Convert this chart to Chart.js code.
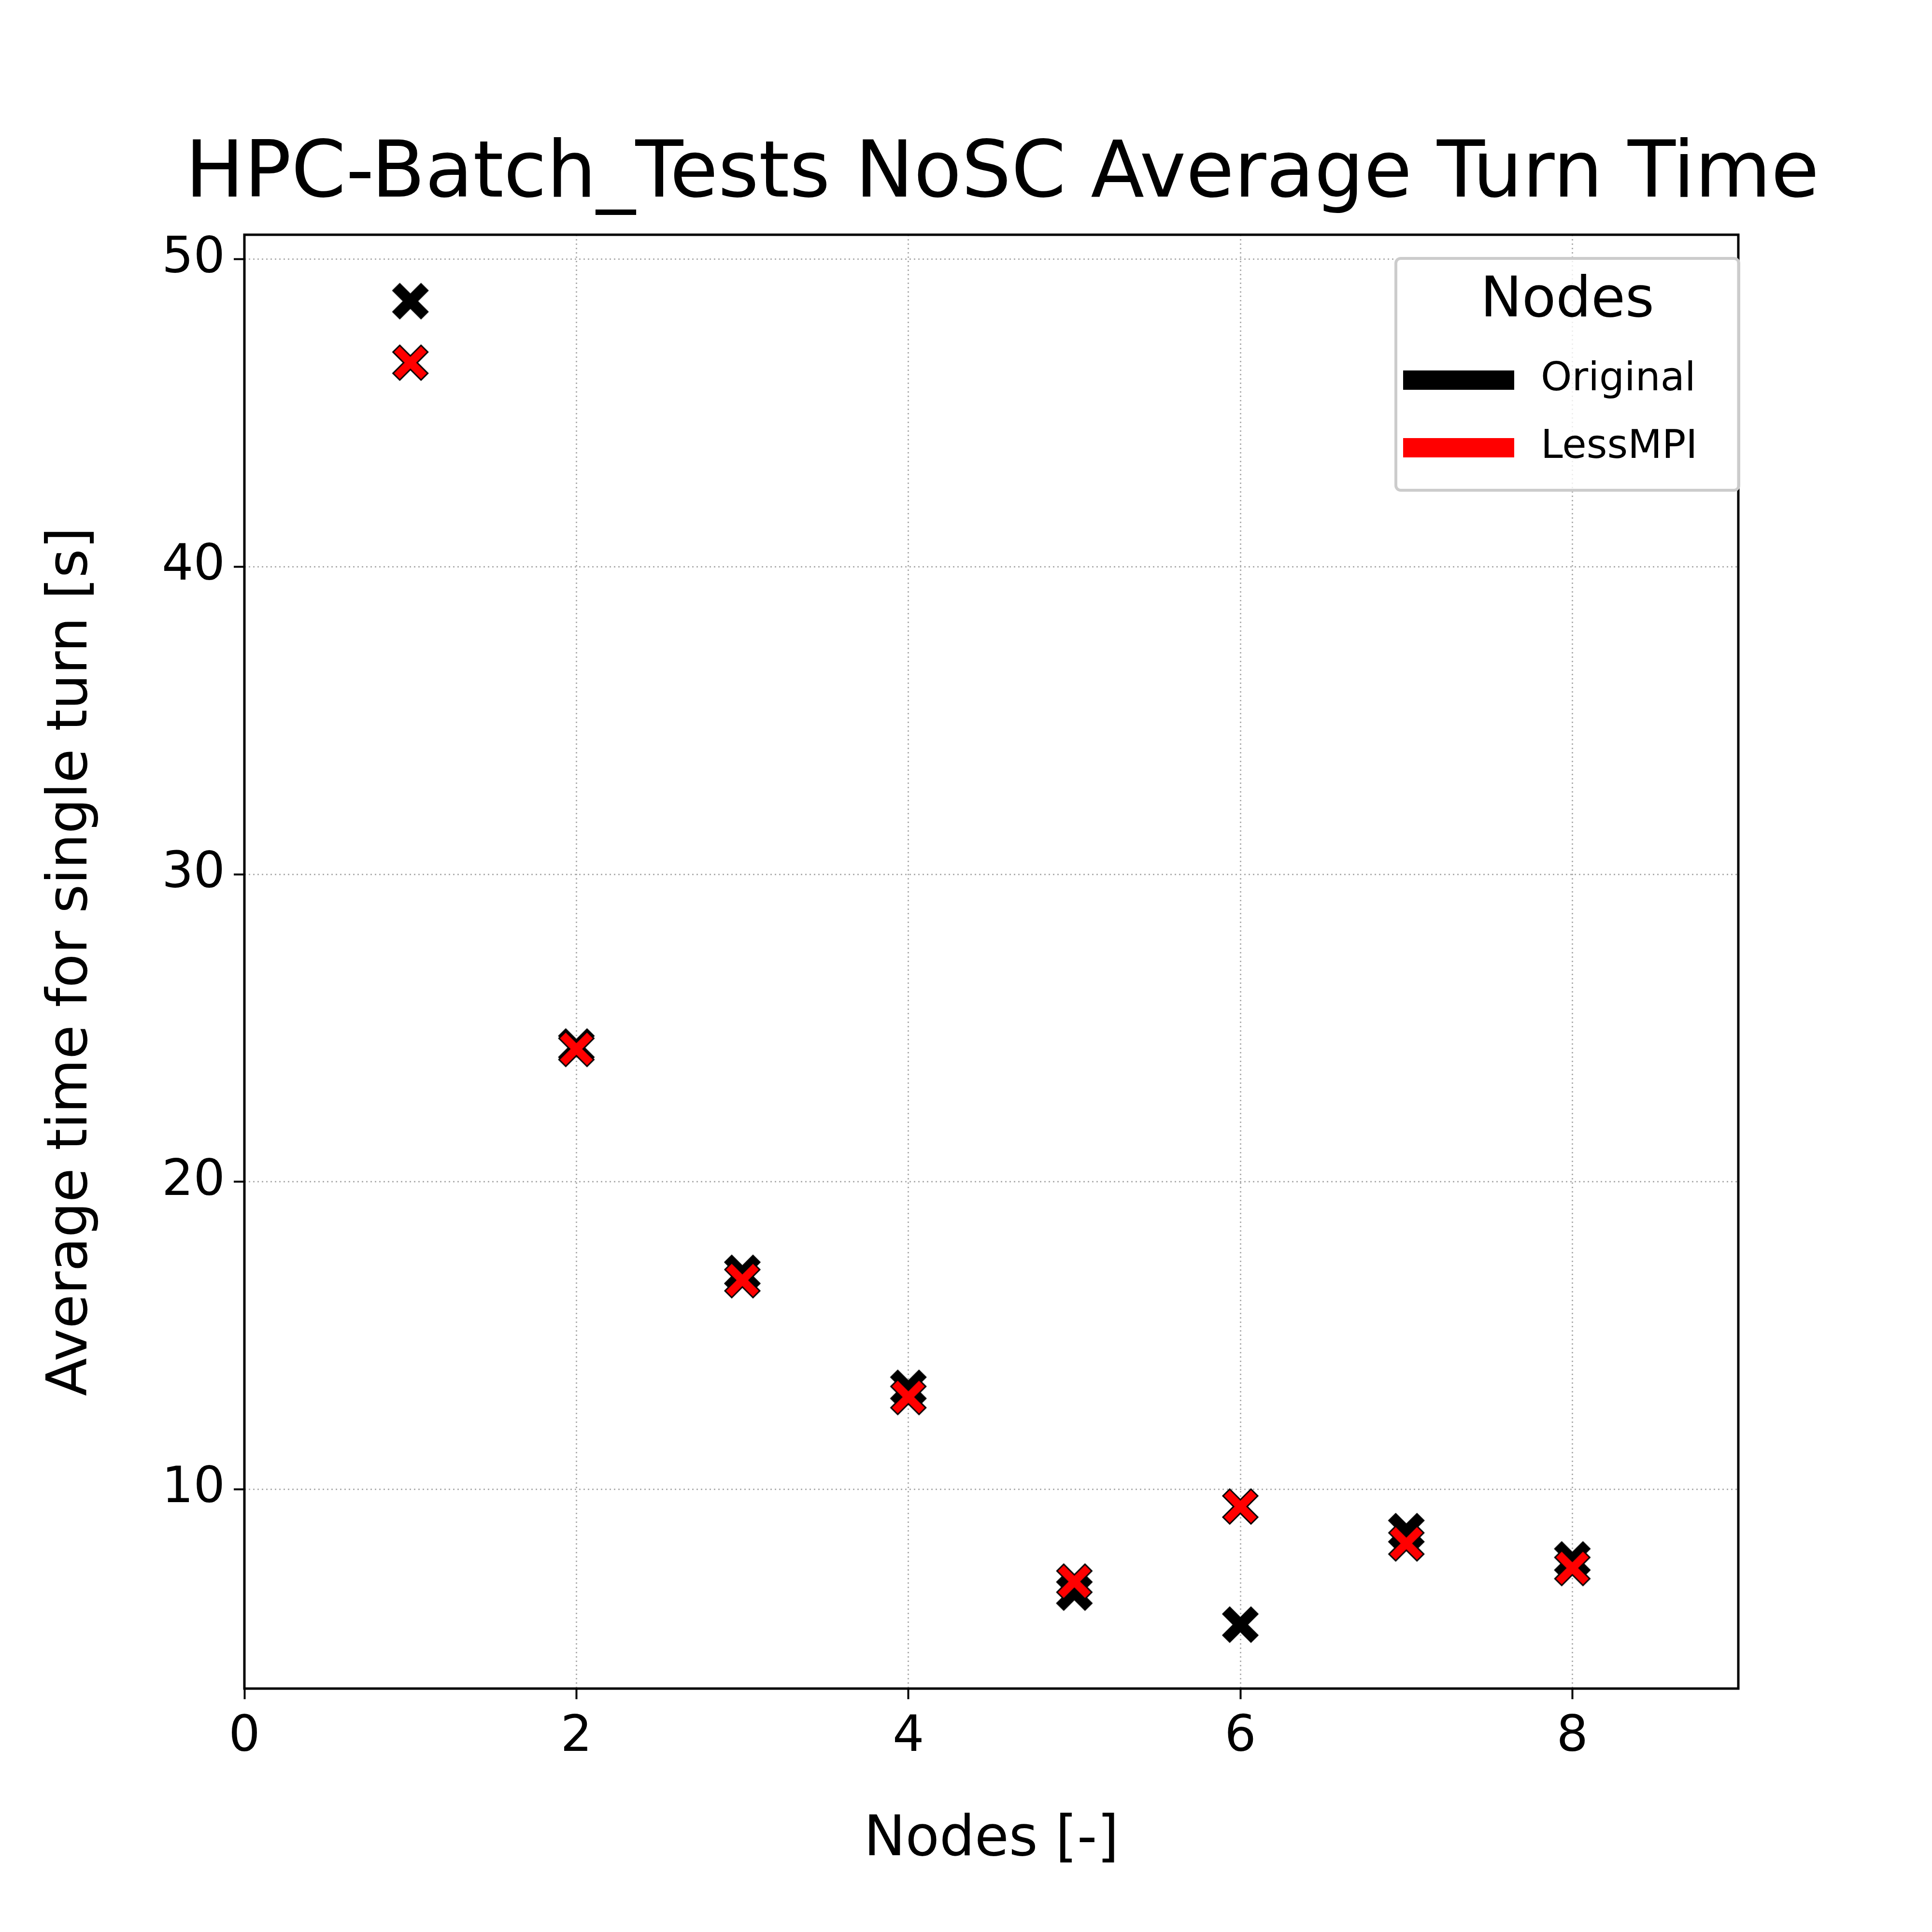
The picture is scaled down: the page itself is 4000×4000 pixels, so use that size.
<!DOCTYPE html>
<html>
<head>
<meta charset="utf-8">
<script src="https://cdn.jsdelivr.net/npm/chart.js@4"></script>
<style>body{margin:0;background:#fff}</style>
</head>
<body>
<canvas id="c" width="4000" height="4000"></canvas>
<script>
const nodes = [1, 2, 3, 4, 5, 6, 7, 8];
const original = [48.64, 24.4, 17.04, 13.3, 6.64, 5.6, 8.64, 7.72];
const lessMPI = [46.64, 24.32, 16.8, 13.0, 7.0, 9.44, 8.24, 7.44];
const yTicks = [10, 20, 30, 40, 50];
const xTicks = [0, 2, 4, 6, 8];
const FONT = "'DejaVu Sans'";

// filled "X" marker with black edge, like matplotlib 'X'
function xMarker(fill) {
  const s = 90, c = document.createElement("canvas");
  c.width = s; c.height = s;
  const g = c.getContext("2d");
  const m = s / 2, a = 36, w = 14;
  g.translate(m, m);
  g.beginPath();
  const pts = [[-w,0],[-a,-a+w],[-a+w,-a],[0,-w],[a-w,-a],[a,-a+w],[w,0],[a,a-w],[a-w,a],[0,w],[-a+w,a],[-a,a-w]];
  pts.forEach((p, i) => i ? g.lineTo(p[0], p[1]) : g.moveTo(p[0], p[1]));
  g.closePath();
  g.fillStyle = fill; g.fill();
  g.lineWidth = 3; g.strokeStyle = "#000"; g.stroke();
  return c;
}

const frame = {
  id: "frame",
  afterDraw(chart) {
    const ctx = chart.ctx, a = chart.chartArea;
    ctx.save();
    ctx.strokeStyle = "#000"; ctx.lineWidth = 5;
    ctx.strokeRect(a.left, a.top, a.right - a.left, a.bottom - a.top);
    ctx.fillStyle = "#000";
    ctx.textAlign = "center"; ctx.textBaseline = "middle";
    ctx.font = "162px " + FONT;
    ctx.fillText("HPC-Batch_Tests NoSC Average Turn Time", 2075, 365);
    // legend
    const lx = 2890, ly = 535, lw = 710, lh = 480;
    ctx.fillStyle = "rgba(255,255,255,0.8)";
    ctx.strokeStyle = "#ccc"; ctx.lineWidth = 6;
    ctx.beginPath(); ctx.roundRect(lx, ly, lw, lh, 10); ctx.fill(); ctx.stroke();
    ctx.fillStyle = "#000";
    ctx.font = "115px " + FONT;
    ctx.fillText("Nodes", lx + lw / 2, 625);
    ctx.textAlign = "left";
    ctx.font = "82px " + FONT;
    [["Original", "#000", 787], ["LessMPI", "#ff0000", 927]].forEach(([t, col, y]) => {
      ctx.fillStyle = col;
      ctx.fillRect(2905, y - 20, 230, 40);
      ctx.fillStyle = "#000";
      ctx.fillText(t, 3190, y);
    });
    ctx.restore();
  }
};

new Chart(document.getElementById("c"), {
  type: "scatter",
  data: {
    datasets: [
      { label: "LessMPI", order: 0, data: nodes.map((x, i) => ({ x, y: lessMPI[i] })), pointStyle: xMarker("#ff0000"), pointRadius: 45 },
      { label: "Original", order: 1, data: nodes.map((x, i) => ({ x, y: original[i] })), pointStyle: xMarker("#000"), pointRadius: 45 }
    ]
  },
  options: {
    responsive: false, animation: false, devicePixelRatio: 1,
    layout: { padding: { top: 486, right: 401, left: 0, bottom: 0 } },
    plugins: { legend: { display: false }, tooltip: { enabled: false } },
    scales: {
      x: {
        type: "linear", min: 0, max: 9,
        afterBuildTicks: s => { s.ticks = xTicks.map(v => ({ value: v })); },
        afterFit: s => { s.height = 504; },
        grid: { color: "#b0b0b0", lineWidth: 3, tickLength: 22, tickColor: "#000", tickWidth: 4, tickBorderDash: [] },
        border: { display: false, dash: [3, 6] },
        ticks: { color: "#000", font: { size: 103, family: FONT }, padding: 18 },
        title: { display: true, text: "Nodes [-]", color: "#000", font: { size: 115, family: FONT }, padding: { top: 20, bottom: 120 } }
      },
      y: {
        min: 3.52, max: 50.8,
        afterBuildTicks: s => { s.ticks = yTicks.map(v => ({ value: v })); },
        afterFit: s => { s.width = 506; },
        grid: { color: "#b0b0b0", lineWidth: 3, tickLength: 22, tickColor: "#000", tickWidth: 4, tickBorderDash: [] },
        border: { display: false, dash: [3, 6] },
        ticks: { color: "#000", font: { size: 103, family: FONT }, padding: 18 },
        title: { display: true, text: "Average time for single turn [s]", color: "#000", font: { size: 115, family: FONT }, padding: { top: 80, bottom: 20 } }
      }
    }
  },
  plugins: [frame]
});
</script>
</body>
</html>
